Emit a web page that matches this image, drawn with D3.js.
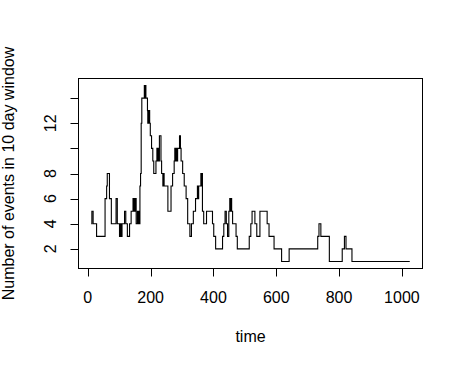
<!DOCTYPE html>
<html>
<head>
<meta charset="utf-8">
<script src="https://cdn.jsdelivr.net/npm/d3@7"></script>
<style>
  body { margin: 0; background: #fff; }
  text { font-family: "Liberation Sans", Arial, sans-serif; fill: #000; }
</style>
</head>
<body>
<script>
// step points: time at which the count changes, and the new count
var times = [11, 13, 17, 28, 55, 60, 62, 69, 75, 90, 94, 101, 103, 104, 106, 107, 109,
  117, 121, 126, 133, 138, 144, 145, 147, 148, 150, 151, 153, 154, 158, 160, 162, 164,
  166, 168, 170, 172, 180, 181, 182, 183, 184, 185, 190, 191, 192, 194, 195, 197, 199,
  203, 207, 210, 217, 220, 221, 222, 223, 224, 225, 228, 233, 235, 239, 240, 241, 242,
  243, 255, 265, 270, 275, 277, 278, 279, 280, 281, 283, 284, 285, 286, 292, 295, 297,
  302, 307, 313, 318, 325, 330, 336, 343, 349, 350, 351, 352, 353, 360, 362, 363, 365,
  369, 378, 397, 401, 407, 429, 433, 437, 441, 445, 449, 452, 455, 457, 458, 461, 472,
  476, 514, 519, 523, 532, 538, 548, 571, 577, 593, 617, 641, 732, 736, 742, 769, 810,
  817, 822, 841, 1025];
var counts = [4, 5, 4, 3, 6, 7, 8, 6, 4, 6, 4, 3, 4, 3, 4, 3, 4,
  5, 4, 3, 4, 5, 6, 5, 6, 5, 6, 5, 6, 4, 5, 4, 5, 4,
  7, 8, 12, 14, 15, 14, 15, 14, 15, 14, 13, 12, 13, 12, 13, 12, 11,
  10, 9, 8, 9, 10, 9, 10, 9, 10, 9, 11, 9, 8, 7, 8, 7, 8,
  7, 5, 7, 8, 9, 10, 9, 10, 9, 10, 9, 10, 9, 10, 11, 10, 9,
  8, 7, 6, 4, 3, 4, 5, 6, 7, 6, 7, 6, 7, 8, 7, 8, 5,
  4, 5, 4, 3, 2, 3, 4, 5, 4, 3, 5, 6, 5, 6, 5, 4, 3,
  2, 3, 4, 5, 4, 3, 5, 4, 3, 2, 1, 2, 3, 4, 3, 1, 2,
  3, 2, 1, 1];

var xTicks = [0, 200, 400, 600, 800, 1000];
var yTicks = [2, 4, 6, 8, 10, 12, 14];
var yTickLabels = ['2', '4', '6', '8', '', '12', ''];

var W = 463, H = 366;
var box = { left: 78.5, right: 422.5, top: 78.5, bottom: 268.5 };

var data = times.map(function(t, i) { return { t: t, n: counts[i] }; });

// R style 4% padding on both axes
var xExt = d3.extent(times), yExt = d3.extent(counts);
var xPad = (xExt[1] - xExt[0]) * 0.04, yPad = (yExt[1] - yExt[0]) * 0.04;

var x = d3.scaleLinear()
  .domain([xExt[0] - xPad, xExt[1] + xPad])
  .range([box.left, box.right]);
var y = d3.scaleLinear()
  .domain([yExt[0] - yPad, yExt[1] + yPad])
  .range([box.bottom, box.top]);

var svg = d3.select('body').append('svg')
  .attr('width', W)
  .attr('height', H);

var line = d3.line()
  .x(function(d) { return x(d.t); })
  .y(function(d) { return y(d.n); })
  .curve(d3.curveStepAfter);

svg.append('path')
  .datum(data)
  .attr('d', line)
  .attr('fill', 'none')
  .attr('stroke', '#000')
  .attr('stroke-width', 1.1);

svg.append('rect')
  .attr('x', box.left)
  .attr('y', box.top)
  .attr('width', box.right - box.left)
  .attr('height', box.bottom - box.top)
  .attr('fill', 'none')
  .attr('stroke', '#000')
  .attr('stroke-width', 1);

// x axis
var xAxis = svg.append('g').attr('class', 'x-axis');
xAxis.selectAll('line')
  .data(xTicks)
  .enter().append('line')
  .attr('x1', function(d) { return Math.round(x(d)) + 0.5; })
  .attr('x2', function(d) { return Math.round(x(d)) + 0.5; })
  .attr('y1', box.bottom)
  .attr('y2', box.bottom + 8)
  .attr('stroke', '#000');
xAxis.selectAll('text')
  .data(xTicks)
  .enter().append('text')
  .attr('x', function(d) { return x(d); })
  .attr('y', 303)
  .attr('text-anchor', 'middle')
  .style('font-size', '16px')
  .text(function(d) { return d; });

// y axis
var yAxis = svg.append('g').attr('class', 'y-axis');
yAxis.selectAll('line')
  .data(yTicks)
  .enter().append('line')
  .attr('x1', box.left - 8)
  .attr('x2', box.left)
  .attr('y1', function(d) { return Math.round(y(d)) + 0.5; })
  .attr('y2', function(d) { return Math.round(y(d)) + 0.5; })
  .attr('stroke', '#000');
yAxis.selectAll('text')
  .data(yTicks)
  .enter().append('text')
  .attr('transform', function(d) { return 'translate(56,' + y(d) + ') rotate(-90)'; })
  .attr('text-anchor', 'middle')
  .style('font-size', '16px')
  .text(function(d, i) { return yTickLabels[i]; });

svg.append('text')
  .attr('x', (box.left + box.right) / 2)
  .attr('y', 342)
  .attr('text-anchor', 'middle')
  .style('font-size', '16px')
  .text('time');

svg.append('text')
  .attr('transform', 'translate(13.5,' + (box.top + box.bottom) / 2 + ') rotate(-90)')
  .attr('text-anchor', 'middle')
  .style('font-size', '16px')
  .text('Number of events in 10 day window');
</script>
</body>
</html>
